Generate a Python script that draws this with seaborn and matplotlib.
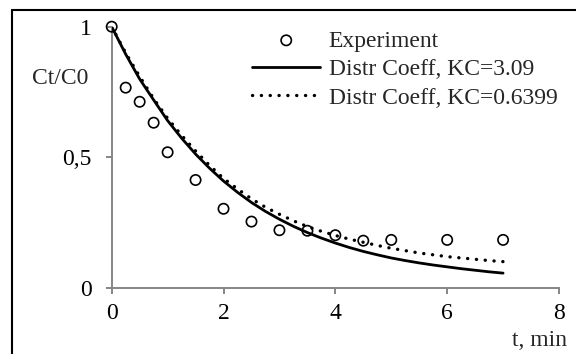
import numpy as np
import pandas as pd
import matplotlib
matplotlib.use('Agg')
import matplotlib.pyplot as plt
import seaborn as sns
from matplotlib.lines import Line2D

# experimental points
t_exp = [0, 0.25, 0.5, 0.75, 1, 1.5, 2, 2.5, 3, 3.5, 4, 4.5, 5, 6, 7]
c_exp = [1.0, 0.767, 0.713, 0.633, 0.52, 0.414, 0.304, 0.255, 0.222, 0.22,
         0.203, 0.182, 0.185, 0.185, 0.185]

# model curves
t_fit = [0, 0.25, 0.5, 0.75, 1, 1.25, 1.5, 1.75, 2, 2.25, 2.5, 2.75, 3, 3.25,
         3.5, 3.75, 4, 4.25, 4.5, 4.75, 5, 5.25, 5.5, 5.75, 6, 6.25, 6.5, 6.75, 7]
c_kc309 = [1.0, 0.895, 0.80, 0.72, 0.641, 0.574, 0.513, 0.459, 0.41, 0.367,
           0.328, 0.294, 0.264, 0.237, 0.213, 0.192, 0.173, 0.156, 0.141,
           0.128, 0.116, 0.106, 0.097, 0.089, 0.082, 0.075, 0.069, 0.063, 0.058]
c_kc064 = [1.0, 0.90, 0.81, 0.725, 0.65, 0.585, 0.525, 0.47, 0.42, 0.38,
           0.342, 0.31, 0.283, 0.258, 0.236, 0.218, 0.202, 0.188, 0.176,
           0.164, 0.153, 0.144, 0.135, 0.128, 0.121, 0.116, 0.111, 0.106, 0.102]

x_ticks = [0, 2, 4, 6, 8]
y_ticks = [0, 0.5, 1]
y_tick_labels = ['0', '0,5', '1']

exp_df = pd.DataFrame({'t': t_exp, 'c': c_exp})
fit_df = pd.DataFrame({'t': t_fit, 'kc309': c_kc309, 'kc064': c_kc064})

sns.set_style('ticks')
plt.rcParams['font.family'] = ['Liberation Serif', 'DejaVu Serif']
FS = 17
grey = '#868686'

fig = plt.figure(figsize=(5.76, 3.54), dpi=100)
ax = fig.add_axes([111.7 / 576, 1 - 288.3 / 354, 447.3 / 576, 261.6 / 354])

sns.scatterplot(data=exp_df, x='t', y='c', ax=ax, marker='o', s=55,
                facecolors='none', edgecolor='black', linewidth=1.2,
                clip_on=False, zorder=4, label='Experiment')
sns.lineplot(data=fit_df, x='t', y='kc309', ax=ax, color='black', lw=2.0,
             label='Distr Coeff, KC=3.09', zorder=3)
sns.lineplot(data=fit_df, x='t', y='kc064', ax=ax, color='black', lw=2.4,
             linestyle=(0, (0.05, 2.6)), dash_capstyle='round',
             label='Distr Coeff, KC=0.6399', zorder=3)

ax.set_xlim(0, 8)
ax.set_ylim(0, 1)
ax.set_xticks(x_ticks)
ax.set_xticklabels([str(v) for v in x_ticks])
ax.set_yticks(y_ticks)
ax.set_yticklabels(y_tick_labels)
ax.set_xlabel('')
ax.set_ylabel('')
sns.despine(ax=ax)
for s in ['left', 'bottom']:
    ax.spines[s].set_color(grey)
    ax.spines[s].set_linewidth(1.4)
ax.tick_params(axis='both', direction='out', length=4.5, width=1.4,
               color=grey, labelsize=FS, labelcolor='black')
ax.tick_params(axis='y', pad=10)
ax.tick_params(axis='x', pad=6)

handles, labels = ax.get_legend_handles_labels()
ax.legend(handles, labels, loc='upper left', frameon=False, fontsize=FS,
          bbox_to_anchor=(252 / 576, 1 - 30 / 354),
          bbox_transform=fig.transFigure, borderpad=0, borderaxespad=0,
          handlelength=2.9, handletextpad=0.35, labelspacing=0.3,
          scatterpoints=1)

fig.text(60 / 576, 1 - 78 / 354, 'Ct/C0', fontsize=FS, ha='center', va='center')
fig.text(567 / 576, 1 - 341 / 354, 't, min', fontsize=FS, ha='right', va='center')

# outer chart frame (cropped at right and bottom)
fig.add_artist(Line2D([12 / 576, 12 / 576], [0, 1 - 10 / 354],
                      transform=fig.transFigure, color='black', lw=1.5))
fig.add_artist(Line2D([12 / 576, 1], [1 - 10 / 354, 1 - 10 / 354],
                      transform=fig.transFigure, color='black', lw=1.5))

fig.savefig('out.png', dpi=100)
